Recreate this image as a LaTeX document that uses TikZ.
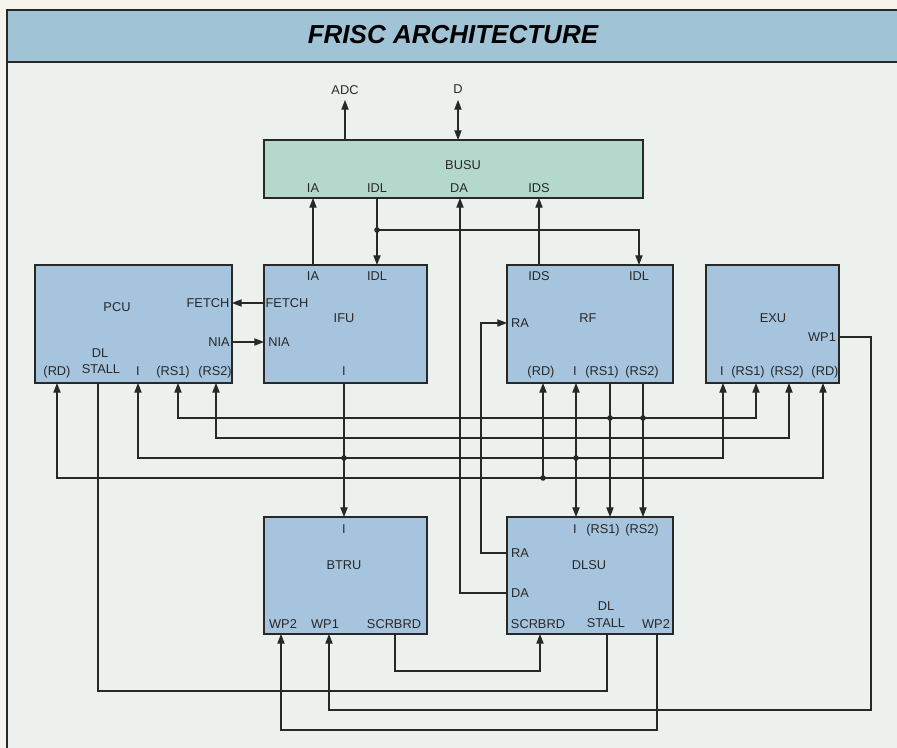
\documentclass[tikz,border=0pt]{standalone}
\usepackage{fontspec}
\setmainfont{Liberation Sans}
\usetikzlibrary{arrows.meta}
\definecolor{bandblue}{RGB}{160,196,214}
\definecolor{boxblue}{RGB}{166,196,222}
\definecolor{busgreen}{RGB}{180,216,204}
\definecolor{paper}{RGB}{236,241,237}
\definecolor{cream}{RGB}{246,243,236}
\definecolor{ink}{RGB}{40,40,40}
\tikzset{
  box/.style={draw=ink, fill=boxblue, line width=0.9pt, inner sep=0pt},
  lbl/.style={font=\fontsize{9.6pt}{11pt}\selectfont, text=ink, inner sep=0pt, text height=6.9pt, text depth=0pt, align=center},
  wire/.style={draw=ink, line width=0.85pt},
  tip/.tip={Triangle[length=7.2pt,width=5.4pt]},
  arr/.style={wire, -tip},
  rarr/.style={wire, tip-},
  darr/.style={wire, tip-tip},
  jdot/.style={fill=ink, draw=none}
}
\begin{document}
\begin{tikzpicture}[x=0.75pt,y=-0.75pt]
\useasboundingbox (0,0) rectangle (897,748);
% background
\fill[cream] (0,0) rectangle (897,748);
\fill[paper] (7,62) rectangle (897,748);
\fill[bandblue] (7,10) rectangle (897,62);
\draw[ink, line width=1pt] (897,10) -- (7,10) -- (7,748);
\draw[ink, line width=1pt] (7,62) -- (897,62);
\node[font=\fontsize{19.5pt}{22pt}\selectfont\bfseries\itshape, text=black] (title) at (453,35) {FRISC ARCHITECTURE};

% boxes
\node[box, fill=busgreen, minimum width=284.25pt, minimum height=43.5pt] (busu) at (453.5,169) {};
\node[box, minimum width=147.75pt, minimum height=88.5pt] (pcu) at (133.5,324) {};
\node[box, minimum width=122.25pt, minimum height=88.5pt] (ifu) at (345.5,324) {};
\node[box, minimum width=124.5pt, minimum height=88.5pt] (rf) at (590,324) {};
\node[box, minimum width=99.75pt, minimum height=88.5pt] (exu) at (772.5,324) {};
\node[box, minimum width=122.25pt, minimum height=87.75pt] (btru) at (345.5,575.5) {};
\node[box, minimum width=124.5pt, minimum height=87.75pt] (dlsu) at (590,575.5) {};

% port coordinates
\coordinate (adcEnd) at (345,100);  \coordinate (busuADC) at (345,140);
\coordinate (dEnd) at (458,100);    \coordinate (busuD) at (458,140);
\coordinate (busuIA) at (313,198);  \coordinate (ifuIA) at (313,265);
\coordinate (busuIDL) at (377,198); \coordinate (ifuIDL) at (377,265);
\coordinate (jIDL) at (377,230);    \coordinate (rfIDL) at (639,265);
\coordinate (busuDA) at (460,198);  \coordinate (dlsuDA) at (507,593);
\coordinate (busuIDS) at (539,198); \coordinate (rfIDS) at (539,265);
\coordinate (ifuFETCH) at (264,303); \coordinate (pcuFETCH) at (232,303);
\coordinate (pcuNIA) at (232,342);  \coordinate (ifuNIA) at (264,342);
\coordinate (dlsuRA) at (507,553);  \coordinate (rfRA) at (507,323);
\coordinate (pcuRD) at (57,383);    \coordinate (pcuSTALL) at (98,383);
\coordinate (pcuI) at (138,383);    \coordinate (pcuRS1) at (178,383);
\coordinate (pcuRS2) at (216,383);
\coordinate (exuI) at (723,383);    \coordinate (exuRS1) at (756,383);
\coordinate (exuRS2) at (789,383);  \coordinate (exuRD) at (823,383);
\coordinate (exuWP1) at (839,337);
\coordinate (ifuI) at (344,383);    \coordinate (btruI) at (344,517);
\coordinate (rfRD) at (543,383);    \coordinate (rfI) at (576,383);
\coordinate (rfRS1) at (610,383);   \coordinate (rfRS2) at (643,383);
\coordinate (dlsuI) at (576,517);   \coordinate (dlsuRS1) at (610,517);
\coordinate (dlsuRS2) at (643,517);
\coordinate (jRD) at (543,478);     \coordinate (jI1) at (344,458);
\coordinate (jI2) at (576,458);     \coordinate (jRS1) at (610,418);
\coordinate (jRS2) at (643,418);
\coordinate (btruWP2) at (281,634); \coordinate (btruWP1) at (329,634);
\coordinate (btruSCR) at (395,634);
\coordinate (dlsuSCR) at (540,634); \coordinate (dlsuSTALL) at (607,634);
\coordinate (dlsuWP2) at (657,634);

% connectors
\draw[arr] (busuADC) -- (adcEnd);
\draw[darr] (busuD) -- (dEnd);
\draw[arr] (ifuIA) -- (busuIA);
\draw[arr] (busuIDL) -- (ifuIDL);
\draw[arr] (jIDL) -| (rfIDL);
\draw[arr] (dlsuDA) -| (busuDA);
\draw[arr] (rfIDS) -- (busuIDS);
\draw[arr] (ifuFETCH) -- (pcuFETCH);
\draw[arr] (pcuNIA) -- (ifuNIA);
\draw[arr] (dlsuRA) -- (481,553) -- (481,323) -- (rfRA);
\draw[darr] (pcuRS1) -- (178,418) -- (756,418) -- (exuRS1);
\draw[darr] (pcuRS2) -- (216,438) -- (789,438) -- (exuRS2);
\draw[darr] (pcuI) -- (138,458) -- (723,458) -- (exuI);
\draw[darr] (pcuRD) -- (57,478) -- (823,478) -- (exuRD);
\draw[arr] (ifuI) -- (btruI);
\draw[arr] (jRD) -- (rfRD);
\draw[darr] (rfI) -- (dlsuI);
\draw[arr] (rfRS1) -- (dlsuRS1);
\draw[arr] (rfRS2) -- (dlsuRS2);
\draw[arr] (exuWP1) -- (871,337) -- (871,710) -- (329,710) -- (btruWP1);
\draw[arr] (dlsuWP2) -- (657,730) -- (281,730) -- (btruWP2);
\draw[wire] (dlsuSTALL) -- (607,691) -- (98,691) -- (pcuSTALL);
\draw[arr] (btruSCR) -- (395,671) -- (540,671) -- (dlsuSCR);

% junction dots
\foreach \j in {jIDL,jRD,jI1,jI2,jRS1,jRS2}
  \fill[jdot] (\j) circle (2.1pt);

% labels
\node[lbl] (tADC) at (345,90) {ADC};
\node[lbl] (tD) at (458,89) {D};
\node[lbl] (tBUSU) at (463,165) {BUSU};
\node[lbl] (tbIA) at (313,188) {IA};
\node[lbl] (tbIDL) at (377,188) {IDL};
\node[lbl] (tbDA) at (459,188) {DA};
\node[lbl] (tbIDS) at (539,188) {IDS};

\node[lbl] (tPCU) at (117,307) {PCU};
\node[lbl] (tpFETCH) at (208,303) {FETCH};
\node[lbl] (tpNIA) at (219,342) {NIA};
\node[lbl] (tpRD) at (57,371) {(RD)};
\node[lbl] (tpDL) at (100,353) {DL};
\node[lbl] (tpSTALL) at (101,369) {STALL};
\node[lbl] (tpI) at (138,371) {I};
\node[lbl] (tpRS1) at (173,371) {(RS1)};
\node[lbl] (tpRS2) at (215,371) {(RS2)};

\node[lbl] (tiIA) at (313,276) {IA};
\node[lbl] (tiIDL) at (377,276) {IDL};
\node[lbl] (tiFETCH) at (287,303) {FETCH};
\node[lbl] (tIFU) at (344,318) {IFU};
\node[lbl] (tiNIA) at (279,342) {NIA};
\node[lbl] (tiI) at (344,371) {I};

\node[lbl] (trIDS) at (539,276) {IDS};
\node[lbl] (trIDL) at (639,276) {IDL};
\node[lbl] (tRF) at (588,318) {RF};
\node[lbl] (trRA) at (520,323) {RA};
\node[lbl] (trRD) at (541,371) {(RD)};
\node[lbl] (trI) at (575,371) {I};
\node[lbl] (trRS1) at (602,371) {(RS1)};
\node[lbl] (trRS2) at (642,371) {(RS2)};

\node[lbl] (tEXU) at (773,318) {EXU};
\node[lbl] (teWP1) at (822,337) {WP1};
\node[lbl] (teI) at (722,371) {I};
\node[lbl] (teRS1) at (748,371) {(RS1)};
\node[lbl] (teRS2) at (787,371) {(RS2)};
\node[lbl] (teRD) at (825,371) {(RD)};

\node[lbl] (tbtI) at (344,529) {I};
\node[lbl] (tBTRU) at (344,565) {BTRU};
\node[lbl] (tbtWP2) at (283,624) {WP2};
\node[lbl] (tbtWP1) at (325,624) {WP1};
\node[lbl] (tbtSCR) at (394,624) {SCRBRD};

\node[lbl] (tdI) at (575,529) {I};
\node[lbl] (tdRS1) at (603,529) {(RS1)};
\node[lbl] (tdRS2) at (642,529) {(RS2)};
\node[lbl] (tdRA) at (520,553) {RA};
\node[lbl] (tDLSU) at (589,565) {DLSU};
\node[lbl] (tdDA) at (520,593) {DA};
\node[lbl] (tdDL) at (606,606) {DL};
\node[lbl] (tdSTALL) at (606,623) {STALL};
\node[lbl] (tdSCR) at (538,624) {SCRBRD};
\node[lbl] (tdWP2) at (656,624) {WP2};
\end{tikzpicture}
\end{document}
